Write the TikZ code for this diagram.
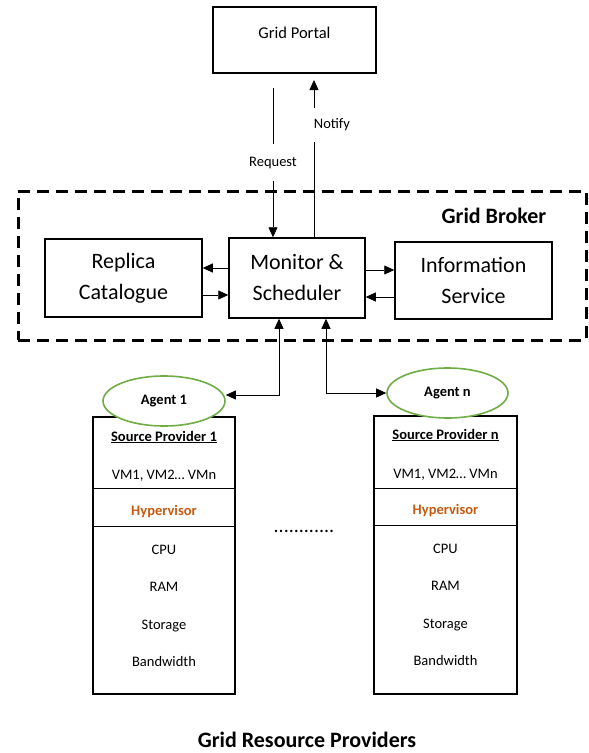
\documentclass[tikz,border=0pt]{standalone}
\usepackage{fontspec}
\setmainfont{Carlito}
\usetikzlibrary{arrows.meta,positioning,shapes.geometric,calc}
\definecolor{agentgreen}{HTML}{70AD47}
\definecolor{hyperorange}{HTML}{C55A11}

\begin{document}
\begin{tikzpicture}[
    x=1pt, y=-1pt,
    box/.style={draw, line width=1.5pt, inner sep=0pt, align=center,
                font=\fontsize{22}{31}\selectfont},
    provbox/.style={draw, line width=1.5pt, minimum width=142pt, minimum height=277pt},
    agent/.style={ellipse, draw=agentgreen, line width=1.6pt, fill=white,
                  minimum width=122pt, minimum height=50pt, inner sep=0pt,
                  font=\fontsize{14.5}{17}\selectfont\bfseries},
    item/.style={font=\fontsize{14.5}{17}\selectfont, inner sep=0pt, anchor=base},
    head/.style={item, font=\fontsize{14.5}{17}\selectfont\bfseries},
    hyper/.style={head, text=hyperorange},
    lbl/.style={font=\fontsize{14.5}{17}\selectfont, fill=white},
    arrow/.style={-{Triangle[length=10pt,width=9pt]}, line width=0.8pt},
    dbl/.style={{Triangle[length=10pt,width=9pt]}-{Triangle[length=10pt,width=9pt]}, line width=0.8pt},
    title/.style={font=\fontsize{22}{26}\selectfont\bfseries},
    divider/.style={line width=1pt},
  ]
  \useasboundingbox (0,0) rectangle (589,753);

  % Portal
  \node[box, minimum width=163pt, minimum height=66pt, font=\fontsize{16.5}{20}\selectfont,
        text height=12pt, text depth=16pt] (portal) at (294.5,40) {Grid Portal};

  % Broker
  \node[draw, line width=3pt, dash pattern=on 12pt off 7pt,
        minimum width=568pt, minimum height=149pt] (broker) at (302,265.5) {};
  \node[title] (brokername) at (494,216) {Grid Broker};

  \node[box, minimum width=157pt, minimum height=78pt] (replica) at (123.5,278) {Replica\\Catalogue};
  \node[box, minimum width=136pt, minimum height=80pt] (monitor) at (297,278) {Monitor \&\\Scheduler};
  \node[box, minimum width=157pt, minimum height=77pt] (info) at (473.5,280.5) {Information\\Service};

  \draw[arrow] (monitor.west |- 0,268) -- (replica.east |- 0,268);
  \draw[arrow] (replica.east |- 0,295) -- (monitor.west |- 0,295);
  \draw[arrow] (monitor.east |- 0,270) -- (info.west |- 0,270);
  \draw[arrow] (info.west |- 0,297) -- (monitor.east |- 0,297);

  % Portal <-> broker
  \coordinate (reqtop) at (273,88);
  \coordinate (notifytop) at (314,80);
  \draw[arrow] (reqtop) -- node[lbl, inner ysep=13pt, inner xsep=1pt] (request) {Request}
    (monitor.north -| reqtop);
  \draw[arrow] (monitor.north -| notifytop) -- node[lbl, pos=0.715, anchor=west, xshift=-2pt,
    inner ysep=11pt, inner xsep=1.5pt] (notify) {Notify} (notifytop);

  % Provider 1
  \node[provbox] (prov1) at (164,555.5) {};
  \node[agent] (agent1) at (164,401) {Agent 1};
  \node[head] (sp1) at (164,441) {\underline{Source Provider 1}};
  \node[item] (vm1) at (164,479) {VM1, VM2… VMn};
  \draw[divider] (prov1.west |- 0,488) -- (prov1.east |- 0,488);
  \node[hyper] (hyp1) at (164,515) {Hypervisor};
  \draw[divider] (prov1.west |- 0,526) -- (prov1.east |- 0,526);
  \node[item] (cpu1) at (164,554) {CPU};
  \node[item] (ram1) at (164,591) {RAM};
  \node[item] (sto1) at (164,629) {Storage};
  \node[item] (bw1) at (164,666) {Bandwidth};

  % Provider n
  \node[provbox, minimum width=143pt, minimum height=278pt] (provn) at (445.5,555) {};
  \node[agent, minimum width=121pt] (agentn) at (447.5,393) {Agent n};
  \node[head] (spn) at (445.5,439) {\underline{Source Provider n}};
  \node[item] (vmn) at (445.5,478) {VM1, VM2… VMn};
  \draw[divider] (provn.west |- 0,488) -- (provn.east |- 0,488);
  \node[hyper] (hypn) at (445.5,514) {Hypervisor};
  \draw[divider] (provn.west |- 0,525) -- (provn.east |- 0,525);
  \node[item] (cpun) at (445.5,553) {CPU};
  \node[item] (ramn) at (445.5,590) {RAM};
  \node[item] (ston) at (445.5,628) {Storage};
  \node[item] (bwn) at (445.5,665) {Bandwidth};

  % Agents <-> monitor
  \draw[dbl] (monitor.south -| 279,0) |- ([yshift=6pt]agent1.east);
  \draw[dbl] (monitor.south -| 326,0) |- (agentn.west);

  \node[item, font=\fontsize{20}{24}\selectfont] (dots) at (304,532) {............};

  \node[title] (providers) at (307,740) {Grid Resource Providers};
\end{tikzpicture}
\end{document}
